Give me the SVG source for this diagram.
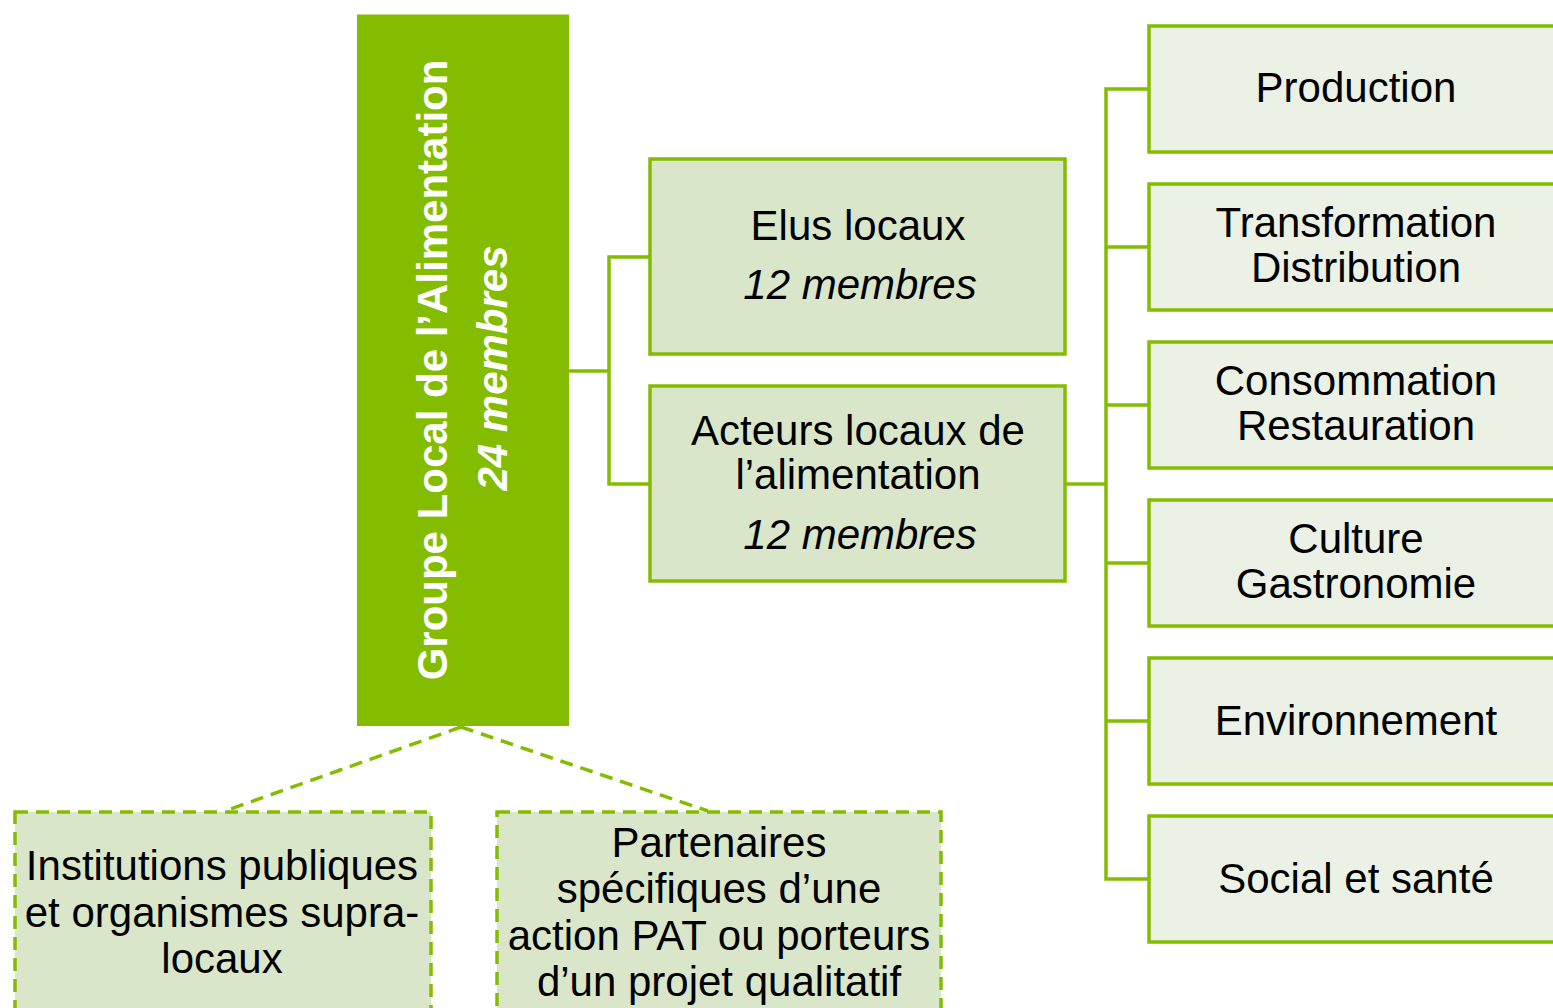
<svg xmlns="http://www.w3.org/2000/svg" width="1553" height="1008" viewBox="0 0 1553 1008">
<style>
  .t{font-family:"Liberation Sans",Arial,sans-serif;font-size:42px;fill:#000;text-anchor:middle}
  .it{font-style:italic}
  .mid{fill:#D9E6CA;stroke:#84BC00;stroke-width:3.5}
  .light{fill:#EBF1E4;stroke:#84BC00;stroke-width:3.5}
  .dash{fill:#D9E6CA;stroke:#84BC00;stroke-width:3.5;stroke-dasharray:13 8}
  .conn{fill:none;stroke:#84BC00;stroke-width:3.5}
  .dconn{fill:none;stroke:#84BC00;stroke-width:3.5;stroke-dasharray:13 8}
  .w{font-family:"Liberation Sans",Arial,sans-serif;font-size:42px;font-weight:bold;fill:#fff;text-anchor:middle}
</style>
<rect width="1553" height="1008" fill="#fff"/>
<g id="connectors">
  <polyline class="conn" points="569,371 609,371"/>
  <polyline class="conn" points="650,257 609,257 609,484 650,484"/>
  <polyline class="conn" points="1065,484 1106,484"/>
  <polyline class="conn" points="1148,89 1106,89 1106,879 1148,879"/>
  <line class="conn" x1="1106" y1="247" x2="1148" y2="247"/>
  <line class="conn" x1="1106" y1="405" x2="1148" y2="405"/>
  <line class="conn" x1="1106" y1="563" x2="1148" y2="563"/>
  <line class="conn" x1="1106" y1="721" x2="1148" y2="721"/>
  <line class="dconn" x1="461" y1="727" x2="225" y2="811"/>
  <line class="dconn" x1="461" y1="727" x2="708" y2="811"/>
</g>
<g id="main">
  <rect x="357" y="14.5" width="212" height="711.5" fill="#84BC00"/>
  <text class="w" transform="translate(447,370) rotate(-90)">Groupe Local de l’Alimentation</text>
  <text class="w" font-style="italic" transform="translate(507,368) rotate(-90)">24 membres</text>
</g>
<g id="elus">
  <rect class="mid" x="650" y="159" width="415" height="195"/>
  <text class="t" x="858" y="240">Elus locaux</text>
  <text class="t it" x="860" y="299">12 membres</text>
</g>
<g id="acteurs">
  <rect class="mid" x="650" y="386" width="415" height="195"/>
  <text class="t" x="858" y="445">Acteurs locaux de</text>
  <text class="t" x="858" y="489">l’alimentation</text>
  <text class="t it" x="860" y="549">12 membres</text>
</g>
<g id="production">
  <rect class="light" x="1149" y="26" width="420" height="126"/>
  <text class="t" x="1356" y="102">Production</text>
</g>
<g id="transformation">
  <rect class="light" x="1149" y="184" width="420" height="126"/>
  <text class="t" x="1356" y="237">Transformation</text>
  <text class="t" x="1356" y="282">Distribution</text>
</g>
<g id="consommation">
  <rect class="light" x="1149" y="342" width="420" height="126"/>
  <text class="t" x="1356" y="395">Consommation</text>
  <text class="t" x="1356" y="440">Restauration</text>
</g>
<g id="culture">
  <rect class="light" x="1149" y="500" width="420" height="126"/>
  <text class="t" x="1356" y="553">Culture</text>
  <text class="t" x="1356" y="598">Gastronomie</text>
</g>
<g id="environnement">
  <rect class="light" x="1149" y="658" width="420" height="126"/>
  <text class="t" x="1356" y="735">Environnement</text>
</g>
<g id="social">
  <rect class="light" x="1149" y="816" width="420" height="126"/>
  <text class="t" x="1356" y="893">Social et santé</text>
</g>
<g id="institutions">
  <rect class="dash" x="15" y="812" width="416" height="220"/>
  <text class="t" x="222" y="880">Institutions publiques</text>
  <text class="t" x="222" y="927">et organismes supra-</text>
  <text class="t" x="222" y="973">locaux</text>
</g>
<g id="partenaires">
  <rect class="dash" x="497" y="812" width="444" height="220"/>
  <text class="t" x="719" y="857">Partenaires</text>
  <text class="t" x="719" y="903">spécifiques d’une</text>
  <text class="t" x="719" y="950">action PAT ou porteurs</text>
  <text class="t" x="719" y="996">d’un projet qualitatif</text>
</g>
</svg>
